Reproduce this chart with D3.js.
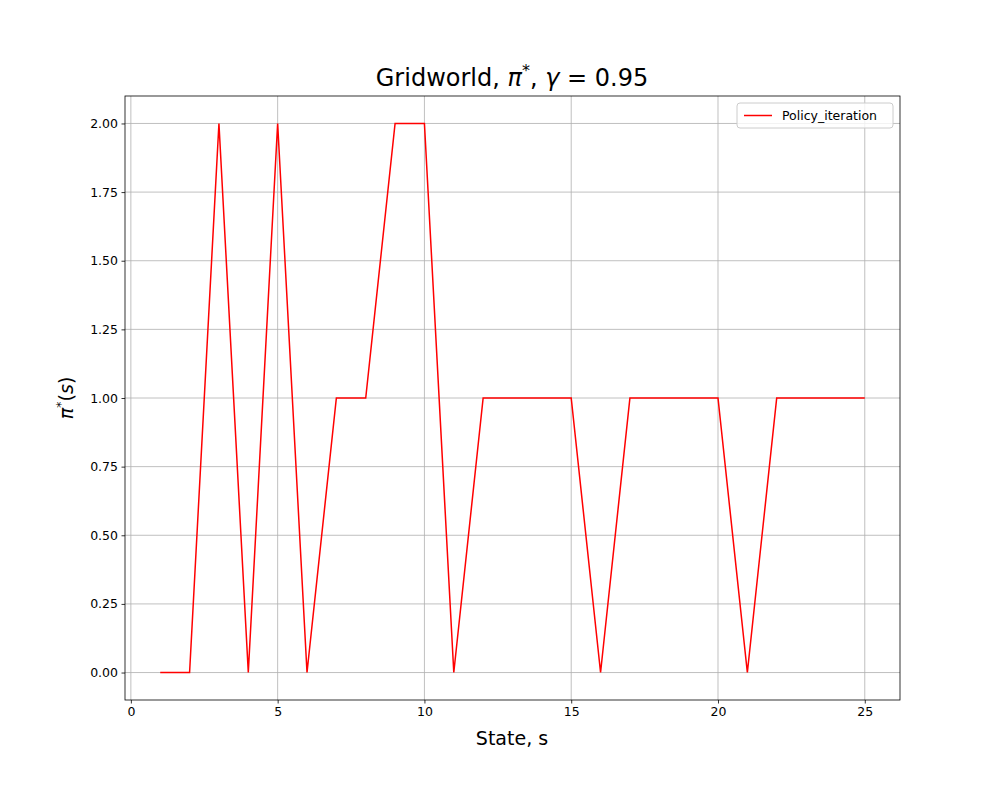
<!DOCTYPE html>
<html><head><meta charset="utf-8">
<script src="https://cdn.jsdelivr.net/npm/d3@7"></script>
<style>body{margin:0;background:#fff;font-family:"DejaVu Sans",sans-serif;}</style>
</head><body><svg id="c" width="1000" height="800"></svg>
<script>
const states = d3.range(1, 26);
const policy = [0,0,2,0,2,0,1,1,2,2,0,1,1,1,1,0,1,1,1,1,0,1,1,1,1];
const xTicks = [0,5,10,15,20,25];
const yTicks = [0,0.25,0.5,0.75,1,1.25,1.5,1.75,2];
const seriesName = "Policy_iteration";

const svg = d3.select("#c");
const L=125,R=900,T=96,B=700;
const x = d3.scaleLinear().domain([-0.2,26.2]).range([L,R]);
const y = d3.scaleLinear().domain([-0.1,2.1]).range([B,T]);

const g = svg.append("g");
g.selectAll(".gx").data(xTicks).enter().append("line")
 .attr("x1",d=>x(d)).attr("x2",d=>x(d)).attr("y1",T).attr("y2",B)
 .attr("stroke","#b0b0b0").attr("stroke-width",0.8);
g.selectAll(".gy").data(yTicks).enter().append("line")
 .attr("y1",d=>y(d)).attr("y2",d=>y(d)).attr("x1",L).attr("x2",R)
 .attr("stroke","#b0b0b0").attr("stroke-width",0.8);

const xa = svg.append("g").attr("transform",`translate(0,${B})`)
 .call(d3.axisBottom(x).tickValues(xTicks).tickSize(3.5).tickPadding(3.5).tickFormat(d3.format("d")));
const ya = svg.append("g").attr("transform",`translate(${L},0)`)
 .call(d3.axisLeft(y).tickValues(yTicks).tickSize(3.5).tickPadding(3.5).tickFormat(d3.format(".2f")));
[xa,ya].forEach(a=>{a.select(".domain").remove();a.selectAll("text").attr("font-size",12.5).attr("font-family","DejaVu Sans").attr("fill","#000");a.selectAll("line").attr("stroke","#000").attr("stroke-width",0.8);});

svg.append("path").datum(states.map((s,i)=>[s,policy[i]]))
 .attr("d",d3.line().x(d=>x(d[0])).y(d=>y(d[1])))
 .attr("fill","none").attr("stroke","red").attr("stroke-width",1.5);

svg.append("rect").attr("x",L).attr("y",T).attr("width",R-L).attr("height",B-T)
 .attr("fill","none").attr("stroke","#000").attr("stroke-width",0.8);

// legend
const lg = svg.append("g");
lg.append("rect").attr("x",737).attr("y",103).attr("width",156).attr("height",25).attr("rx",3)
 .attr("fill","#fff").attr("fill-opacity",0.8).attr("stroke","#ccc");
lg.append("line").attr("x1",744).attr("x2",772).attr("y1",115.5).attr("y2",115.5).attr("stroke","red").attr("stroke-width",1.5);
lg.append("text").attr("x",782).attr("y",120).attr("font-size",12.5).text(seriesName);

// title
const t = svg.append("text").attr("x",512).attr("y",86).attr("text-anchor","middle").attr("font-size",24);
t.append("tspan").text("Gridworld, ");
t.append("tspan").attr("font-style","italic").text("π");
t.append("tspan").attr("font-size",16).attr("dy",-10).text("*");
t.append("tspan").attr("dy",10).text(", ");
t.append("tspan").attr("font-style","italic").text("γ");
t.append("tspan").text(" = 0.95");

svg.append("text").attr("x",512).attr("y",745).attr("text-anchor","middle").attr("font-size",19).text("State, s");
const yl = svg.append("text").attr("transform","translate(73,398) rotate(-90)").attr("text-anchor","middle").attr("font-size",19);
yl.append("tspan").attr("font-style","italic").text("π");
yl.append("tspan").attr("font-size",13).attr("dy",-8).text("*");
yl.append("tspan").attr("dy",8).text("(");
yl.append("tspan").attr("font-style","italic").text("s");
yl.append("tspan").text(")");
</script></body></html>
